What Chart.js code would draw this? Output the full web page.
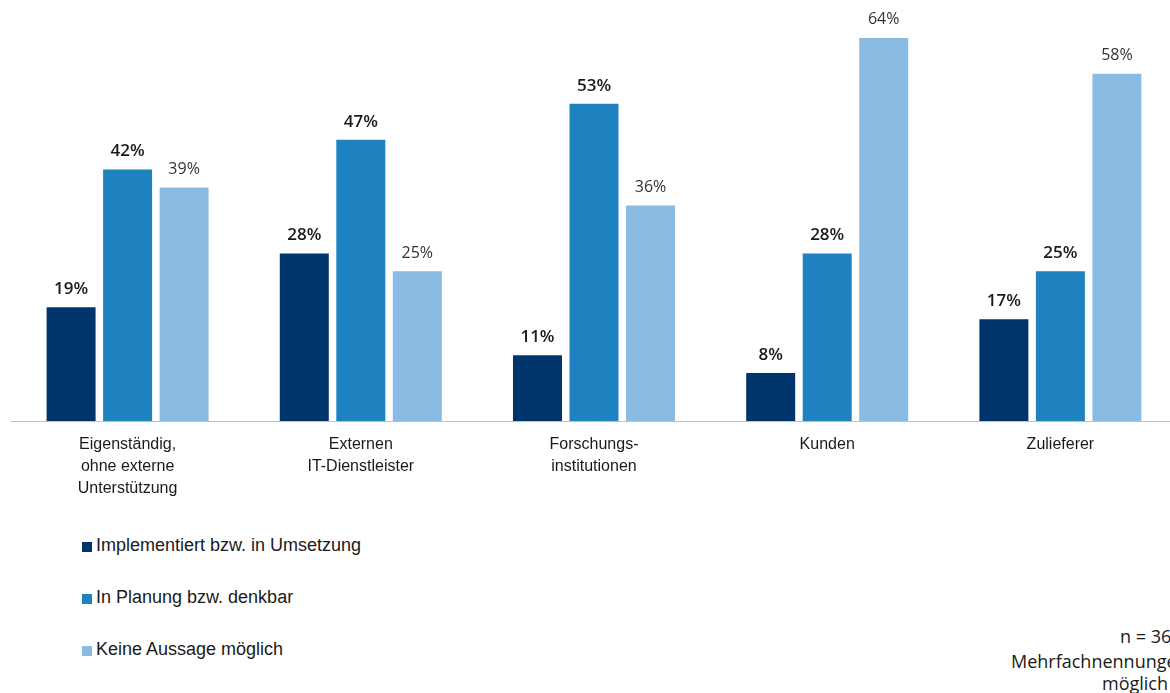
<!DOCTYPE html>
<html>
<head>
<meta charset="utf-8">
<script src="https://cdn.jsdelivr.net/npm/chart.js@4/dist/chart.umd.min.js"></script>
<style>
  html, body { margin: 0; padding: 0; background: #fff; overflow: hidden; width: 1170px; height: 693px; }
  #wrap { position: absolute; left: 0; top: 0; width: 1180px; height: 501px; }
  #legend { position: absolute; left: 82px; top: 535px; font: 18px "Liberation Sans", Arial, sans-serif; color: #1a1a1a; }
  #legend div { height: 52px; display: flex; align-items: flex-start; }
  #legend span.box { display: inline-block; width: 10px; height: 10px; margin: 7px 4px 0 0; }
  .note { position: absolute; font: 18px "Open Sans", sans-serif; color: #1a1a1a; white-space: nowrap; }
</style>
</head>
<body>
<div id="wrap"><canvas id="barChart"></canvas></div>
<div id="legend"></div>
<div class="note" style="left:1120px; top:624px;">n = 36</div>
<div class="note" style="left:1011px; top:649px;">Mehrfachnennungen</div>
<div class="note" style="left:1102px; top:671px;">möglich</div>

<script>
// Kategorien und Werte (Prozent)
const categories = [
  ["Eigenständig,", "ohne externe", "Unterstützung"],
  ["Externen", "IT-Dienstleister"],
  ["Forschungs-", "institutionen"],
  "Kunden",
  "Zulieferer",
];
const seriesNames = [
  "Implementiert bzw. in Umsetzung",
  "In Planung bzw. denkbar",
  "Keine Aussage möglich",
];
const implementiert = [19, 28, 11, 8, 17];
const inPlanung = [42, 47, 53, 28, 25];
const keineAussage = [39, 25, 36, 64, 58];

const colors = ["#00356B", "#1F82C0", "#8ABCE3"];

// Werte über den Balken
const valueLabels = {
  id: "valueLabels",
  afterDatasetsDraw(chart) {
    const ctx = chart.ctx;
    ctx.save();
    ctx.textAlign = "center";
    ctx.textBaseline = "middle";
    chart.data.datasets.forEach((ds, i) => {
      const meta = chart.getDatasetMeta(i);
      if (i < 2) {
        ctx.font = '600 17px "Open Sans", sans-serif';
        ctx.fillStyle = "#1a1a1a";
      } else {
        ctx.font = '400 16px "Open Sans", sans-serif';
        ctx.fillStyle = "#333333";
      }
      meta.data.forEach((bar, j) => {
        ctx.fillText(ds.data[j] + "%", bar.x, bar.y - 18);
      });
    });
    ctx.restore();
  },
};

const data = {
  labels: categories,
  datasets: [implementiert, inPlanung, keineAussage].map((vals, i) => ({
    label: seriesNames[i],
    data: vals,
    backgroundColor: colors[i],
    categoryPercentage: 0.727,
    barPercentage: 0.867,
  })),
};

new Chart(document.getElementById("barChart"), {
  type: "bar",
  data,
  options: {
    responsive: true,
    maintainAspectRatio: false,
    animation: false,
    layout: { padding: { left: 11, right: 3, top: 2, bottom: 0 } },
    plugins: {
      legend: { display: false },
      tooltip: { enabled: false },
    },
    scales: {
      x: {
        grid: { display: false, drawTicks: false },
        border: { display: true, color: "#c0c0c0", width: 1 },
        ticks: {
          color: "#1a1a1a",
          padding: 13,
          maxRotation: 0,
          autoSkip: false,
          font: { family: '"Liberation Sans", Arial, sans-serif', size: 16, lineHeight: 1.375 },
        },
        afterFit(scale) {
          scale.height = 80;
        },
      },
      y: {
        display: false,
        min: 0,
        max: 70,
      },
    },
  },
  plugins: [valueLabels],
});

// Legende untereinander
const legend = document.getElementById("legend");
seriesNames.forEach((name, i) => {
  const row = document.createElement("div");
  row.innerHTML = `<span class="box" style="background:${colors[i]}"></span><span>${name}</span>`;
  legend.appendChild(row);
});
</script>
</body>
</html>
